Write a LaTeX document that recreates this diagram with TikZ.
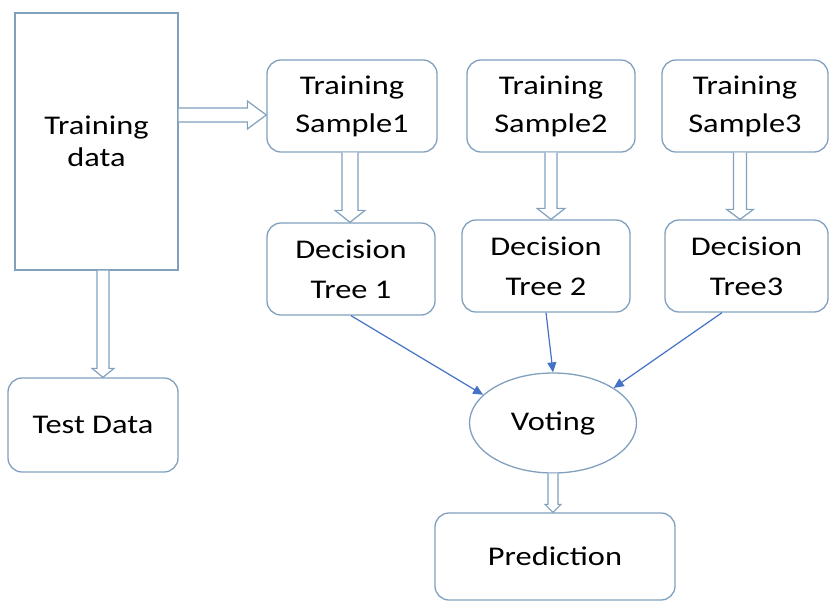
\documentclass[tikz,border=0pt]{standalone}
\usepackage{fontspec}
\setmainfont{Carlito}[FakeStretch=1.2]
\usetikzlibrary{calc,arrows.meta,shapes.geometric}
\definecolor{boxc}{RGB}{128,160,190}
\definecolor{linec}{RGB}{68,114,196}
\newcommand\dblv[5]{%
  \draw[hollow] let \p1=(#1), \p2=(#2) in
    (\x1-#3pt,\y1) -- (\x1-#3pt,\y2+#5pt) -- (\x1-#4pt,\y2+#5pt) -- (\x1,\y2)
    -- (\x1+#4pt,\y2+#5pt) -- (\x1+#3pt,\y2+#5pt) -- (\x1+#3pt,\y1);}
\newcommand\dblh[5]{%
  \draw[hollow] let \p1=(#1), \p2=(#2) in
    (\x1,\y1+#3pt) -- (\x2-#5pt,\y1+#3pt) -- (\x2-#5pt,\y1+#4pt) -- (\x2,\y1)
    -- (\x2-#5pt,\y1-#4pt) -- (\x2-#5pt,\y1-#3pt) -- (\x1,\y1-#3pt);}
\begin{document}
\begin{tikzpicture}[x=1pt,y=-1pt,
  box/.style={draw=boxc, line width=1.3pt, rounded corners=14pt, align=center,
    font=\fontsize{27}{38}\selectfont, inner sep=0pt},
  hollow/.style={draw=boxc, line width=1.2pt, fill=white, line join=miter},
  conn/.style={draw=linec, line width=1.2pt, -{Triangle[length=10pt,width=9pt]}}]
\useasboundingbox (0,0) rectangle (829,603);
\fill[white] (0,0) rectangle (829,603);

\node[box, rounded corners=0pt, minimum width=163pt, minimum height=257pt,
  font=\fontsize{27}{32}\selectfont] (td) at (96.5,141.5) {Training\\data};
\node[box, minimum width=170pt, minimum height=94pt] (test) at (93,425) {Test Data};

\node[box, minimum width=170pt, minimum height=92pt] (ts1) at (352,106) {Training\\Sample1};
\node[box, minimum width=168pt, minimum height=92pt] (ts2) at (551,106) {Training\\Sample2};
\node[box, minimum width=166pt, minimum height=92pt] (ts3) at (745,106) {Training\\Sample3};

\node[box, minimum width=168pt, minimum height=92pt, font=\fontsize{27}{40}\selectfont] (dt1) at (351,269) {Decision\\Tree 1};
\node[box, minimum width=168pt, minimum height=92pt, font=\fontsize{27}{40}\selectfont] (dt2) at (546,266) {Decision\\Tree 2};
\node[box, minimum width=163pt, minimum height=92pt, font=\fontsize{27}{40}\selectfont] (dt3) at (746.5,266) {Decision\\Tree3};

\node[draw=boxc, line width=1.3pt, ellipse, minimum width=167pt, minimum height=100pt,
  inner sep=0pt, font=\fontsize{27}{38}\selectfont] (vote) at (553,423) {Voting};
\node[box, minimum width=240pt, minimum height=87pt] (pred) at (555,556.5) {Prediction};

% hollow block arrows
\path (0,115) coordinate (yh);
\coordinate (h0) at (td.east |- yh);
\coordinate (h1) at (ts1.west |- yh);
\dblh{h0}{h1}{7}{14}{19}

\coordinate (v0) at ($(td.south)+(6.5,0)$);
\coordinate (v0e) at (v0 |- test.north);
\dblv{v0}{v0e}{6}{11}{9}

\coordinate (v1) at ($(ts1.south)+(-2,0)$);
\coordinate (v1e) at (v1 |- dt1.north);
\dblv{v1}{v1e}{8}{15}{12}

\coordinate (v2) at (ts2.south);
\coordinate (v2e) at (v2 |- dt2.north);
\dblv{v2}{v2e}{6}{14}{11}

\coordinate (v3) at ($(ts3.south)+(-5,0)$);
\coordinate (v3e) at (v3 |- dt3.north);
\dblv{v3}{v3e}{6.5}{13.5}{10}

\coordinate (v4) at (vote.south);
\coordinate (v4e) at (v4 |- pred.north);
\dblv{v4}{v4e}{5}{8}{8}

% thin connectors to voting
\coordinate (c3) at ($(dt3.south)+(-24.5,0)$);
\draw[conn] (dt1.south) -- (vote.158);
\draw[conn] (dt2.south) -- (vote.north);
\draw[conn] (c3) -- (vote.30);
\end{tikzpicture}
\end{document}
